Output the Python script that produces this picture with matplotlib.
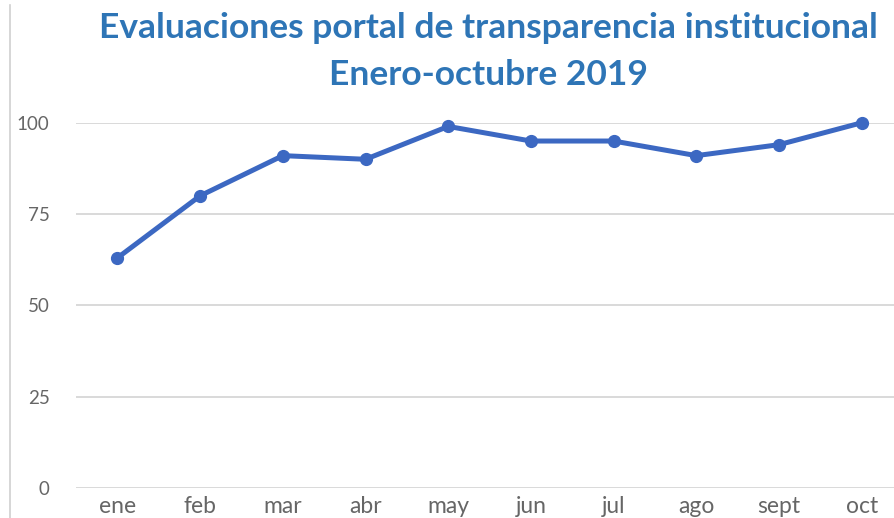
import matplotlib.pyplot as plt
from matplotlib.lines import Line2D

months = ['ene', 'feb', 'mar', 'abr', 'may', 'jun', 'jul', 'ago', 'sept', 'oct']
scores = [63, 80, 91, 90, 99, 95, 95, 91, 94, 100]
yticks = [0, 25, 50, 75, 100]

title_color = '#2E75B6'
line_color = '#3C68C2'
text_color = '#666666'

fig = plt.figure(figsize=(8.95, 5.18), dpi=100)
ax = fig.add_axes([0.085, 0.058, 0.924, 0.705])

x = range(len(months))
ax.plot(x, scores, color=line_color, linewidth=3.6, marker='o', markersize=8.5,
        clip_on=False, zorder=3)

ax.set_xlim(-0.5, len(months) - 0.5)
ax.set_ylim(0, 100)
ax.set_yticks(yticks)
ax.set_xticks(list(x))
ax.set_xticklabels(months)
ax.grid(True, axis='y', color='#D9D9D9', linewidth=1.4)
ax.set_axisbelow(True)
for s in ax.spines.values():
    s.set_visible(False)
ax.tick_params(axis='both', length=0, colors=text_color)
ax.tick_params(axis='y', pad=19, labelsize=13.5)
ax.tick_params(axis='x', pad=6, labelsize=16.5)
for lab in ax.get_xticklabels() + ax.get_yticklabels():
    lab.set_family('Lato')

fig.text(0.546, 0.945, 'Evaluaciones portal de transparencia institucional',
         ha='center', va='center', fontsize=25.5, fontweight='bold',
         color=title_color, family='Lato')
fig.text(0.546, 0.855, 'Enero-octubre 2019', ha='center', va='center',
         fontsize=25.5, fontweight='bold', color=title_color, family='Lato')

# frame edge seen on the left of the picture
fig.add_artist(Line2D([0.011, 0.011], [0, 0.99], transform=fig.transFigure,
                      color='#D0D0D0', linewidth=1.2))

fig.savefig('out.png', dpi=100)
